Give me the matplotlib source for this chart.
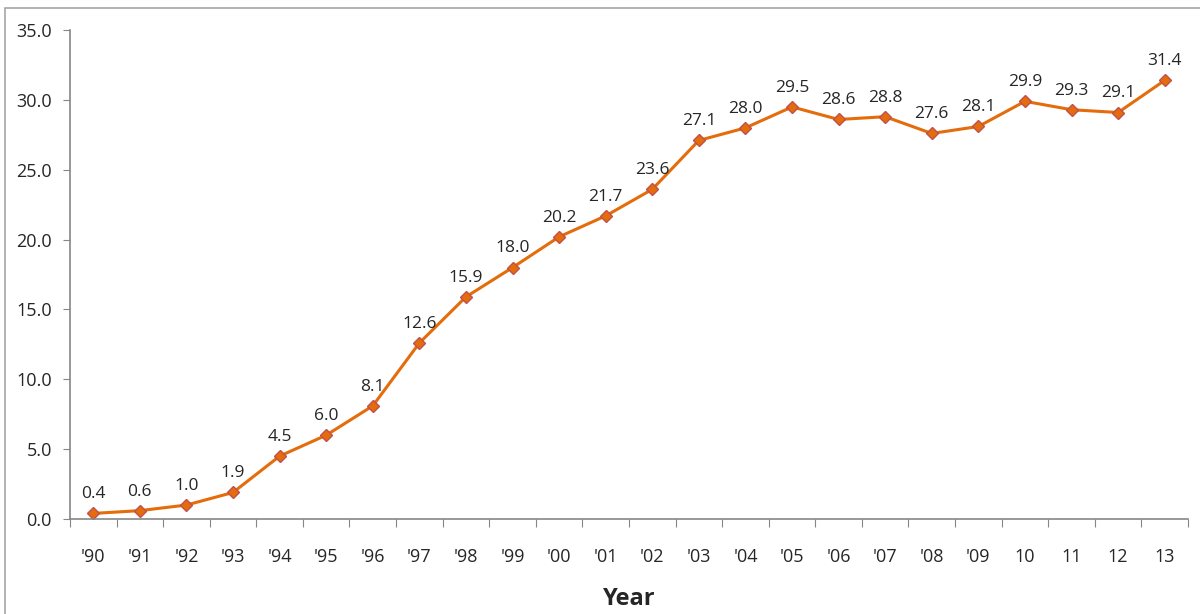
import matplotlib.pyplot as plt
import matplotlib.patches as patches
from matplotlib.ticker import FixedLocator, NullFormatter

years = ["'90", "'91", "'92", "'93", "'94", "'95", "'96", "'97", "'98", "'99",
         "'00", "'01", "'02", "'03", "'04", "'05", "'06", "'07", "'08", "'09",
         "10", "11", "12", "13"]
values = [0.4, 0.6, 1.0, 1.9, 4.5, 6.0, 8.1, 12.6, 15.9, 18.0, 20.2, 21.7,
          23.6, 27.1, 28.0, 29.5, 28.6, 28.8, 27.6, 28.1, 29.9, 29.3, 29.1, 31.4]
y_ticks = [0, 5, 10, 15, 20, 25, 30, 35]

plt.rcParams['font.family'] = ['Open Sans', 'DejaVu Sans']

fig = plt.figure(figsize=(12, 6.14), dpi=100)
ax = fig.add_axes([0.0583, 0.1547, 0.9317, 0.7963])

# thin gray frame around the chart area
fig.patches.append(patches.Rectangle((5 / 1200, -0.1), 1.2, 1 - 8 / 614 + 0.1,
                                     transform=fig.transFigure, fill=False,
                                     edgecolor="#a6a6a6", linewidth=1.2))

x = list(range(len(values)))
ax.plot(x, values, color="#e46c0a", linewidth=2.2, marker="D", markersize=6,
        markerfacecolor="#e46c0a", markeredgecolor="#c0504d", markeredgewidth=1)

for xi, v in zip(x, values):
    ax.annotate(f"{v:.1f}", (xi, v), xytext=(0, 8), textcoords="offset points",
                ha="center", va="bottom", fontsize=12.5, color="#262626")

ax.set_xlim(-0.5, len(values) - 0.5)
ax.set_ylim(0, 35)
ax.set_yticks(y_ticks)
ax.set_yticklabels([f"{t:.1f}" for t in y_ticks])

ax.xaxis.set_major_locator(FixedLocator([i - 0.5 for i in range(len(values) + 1)]))
ax.xaxis.set_major_formatter(NullFormatter())
ax.xaxis.set_minor_locator(FixedLocator(x))
ax.set_xticklabels(years, minor=True)

ax.tick_params(axis="x", which="major", direction="out", length=6, color="#868686")
ax.tick_params(axis="x", which="minor", length=0, pad=21, labelsize=13, labelcolor="#262626")
ax.tick_params(axis="y", direction="out", length=5, color="#868686", pad=8,
               labelsize=13, labelcolor="#262626")

for s in ["top", "right"]:
    ax.spines[s].set_visible(False)
for s in ["left", "bottom"]:
    ax.spines[s].set_color("#868686")
    ax.spines[s].set_linewidth(1.2)

ax.set_xlabel("Year", fontsize=17, fontweight="bold", color="#262626", labelpad=15)

fig.savefig("out.png", dpi=100)
